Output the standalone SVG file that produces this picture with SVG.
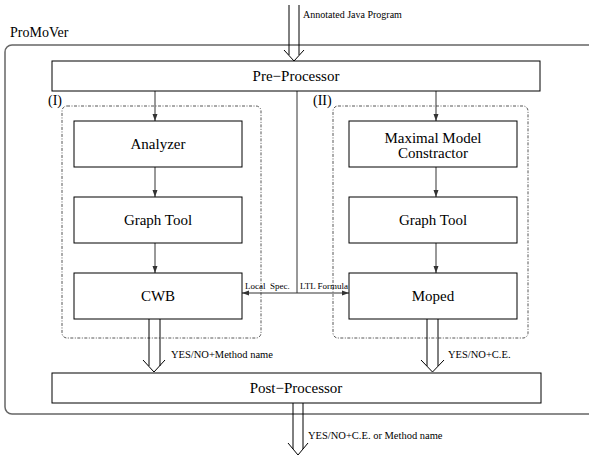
<svg xmlns="http://www.w3.org/2000/svg" width="589" height="457" viewBox="0 0 589 457">
<style>
.box{fill:#fff;stroke:#000;stroke-width:1}
.lbl{font-family:"Liberation Serif","Times New Roman",serif;font-size:15px;fill:#000;text-anchor:middle}
.sm{font-family:"Liberation Serif","Times New Roman",serif;font-size:10.5px;fill:#000}
.tiny{font-family:"Liberation Serif","Times New Roman",serif;font-size:9px;fill:#000}
.grp{fill:none;stroke:#444;stroke-width:0.9;stroke-dasharray:3,1.5,1,1.5}
.ln{fill:none;stroke:#333;stroke-width:1}
.dbl{fill:none;stroke:#000;stroke-width:1}
</style>
<defs>
<marker id="ah" markerWidth="7" markerHeight="6" refX="7" refY="3" orient="auto" markerUnits="userSpaceOnUse">
<path d="M0,0.5 L7,3 L0,5.5 Z" fill="#333"/>
</marker>
</defs>
<rect fill="#fff" x="0" y="0" width="589" height="457"/>
<g id="promover">
<rect x="5" y="45" width="620" height="369" rx="7" fill="none" stroke="#666" stroke-width="1.5"/>
<text class="lbl" x="10" y="37" style="text-anchor:start;font-size:14px">ProMoVer</text>
</g>
<g id="group-I">
<rect class="grp" x="62" y="106" width="199" height="232" rx="5"/>
<text class="lbl" x="48" y="105" style="text-anchor:start;font-size:14px">(I)</text>
</g>
<g id="group-II">
<rect class="grp" x="333" y="106" width="195" height="232" rx="5"/>
<text class="lbl" x="313" y="105" style="text-anchor:start;font-size:14px">(II)</text>
</g>
<g id="connectors">
<line class="ln" x1="155" y1="91" x2="155" y2="121" marker-end="url(#ah)"/>
<line class="ln" x1="155" y1="167" x2="155" y2="197" marker-end="url(#ah)"/>
<line class="ln" x1="155" y1="243" x2="155" y2="273" marker-end="url(#ah)"/>
<line class="ln" x1="436" y1="91" x2="436" y2="121" marker-end="url(#ah)"/>
<line class="ln" x1="436" y1="167" x2="436" y2="197" marker-end="url(#ah)"/>
<line class="ln" x1="436" y1="243" x2="436" y2="273" marker-end="url(#ah)"/>
<line class="ln" x1="297" y1="91" x2="297" y2="293"/>
<line class="ln" x1="297" y1="293" x2="242" y2="293" marker-end="url(#ah)"/>
<line class="ln" x1="297" y1="293" x2="349" y2="293" marker-end="url(#ah)"/>
<text class="tiny" x="245" y="289" xml:space="preserve">Local  Spec.</text>
<text class="tiny" x="300" y="289">LTL Formula</text>
<!-- input double arrow -->
<path class="dbl" d="M289,5 V55 M299,5 V55 M284,50 L294,61 L304,50"/>
<text class="sm" x="303" y="18" style="font-size:10px">Annotated Java Program</text>
<!-- CWB output -->
<path class="dbl" d="M149,319 V366 M160,319 V366 M143,360 L154,372 L165,360"/>
<text class="sm" x="171" y="358">YES/NO+Method name</text>
<!-- Moped output -->
<path class="dbl" d="M427,319 V366 M438,319 V366 M421,360 L432.5,372 L444,360"/>
<text class="sm" x="448" y="358">YES/NO+C.E.</text>
<!-- final output -->
<path class="dbl" d="M293,403 V449 M303,403 V449 M288,443 L298,455 L308,443"/>
<text class="sm" x="308" y="439">YES/NO+C.E. or Method name</text>
</g>
<g id="pre-processor">
<rect class="box" x="52" y="61" width="488" height="30"/>
<text class="lbl" x="296" y="81">Pre−Processor</text>
</g>
<g id="analyzer">
<rect class="box" x="74" y="121" width="168" height="46"/>
<text class="lbl" x="158" y="149">Analyzer</text>
</g>
<g id="graph-tool-1">
<rect class="box" x="74" y="197" width="168" height="46"/>
<text class="lbl" x="158" y="225">Graph Tool</text>
</g>
<g id="cwb">
<rect class="box" x="74" y="273" width="168" height="46"/>
<text class="lbl" x="158" y="301">CWB</text>
</g>
<g id="maximal-model-constractor">
<rect class="box" x="349" y="121" width="168" height="46"/>
<text class="lbl" x="433" y="143">Maximal Model</text>
<text class="lbl" x="433" y="158">Constractor</text>
</g>
<g id="graph-tool-2">
<rect class="box" x="349" y="197" width="168" height="46"/>
<text class="lbl" x="433" y="225">Graph Tool</text>
</g>
<g id="moped">
<rect class="box" x="349" y="273" width="168" height="46"/>
<text class="lbl" x="433" y="301">Moped</text>
</g>
<g id="post-processor">
<rect class="box" x="52" y="373" width="489" height="30"/>
<text class="lbl" x="296" y="393">Post−Processor</text>
</g>
</svg>
